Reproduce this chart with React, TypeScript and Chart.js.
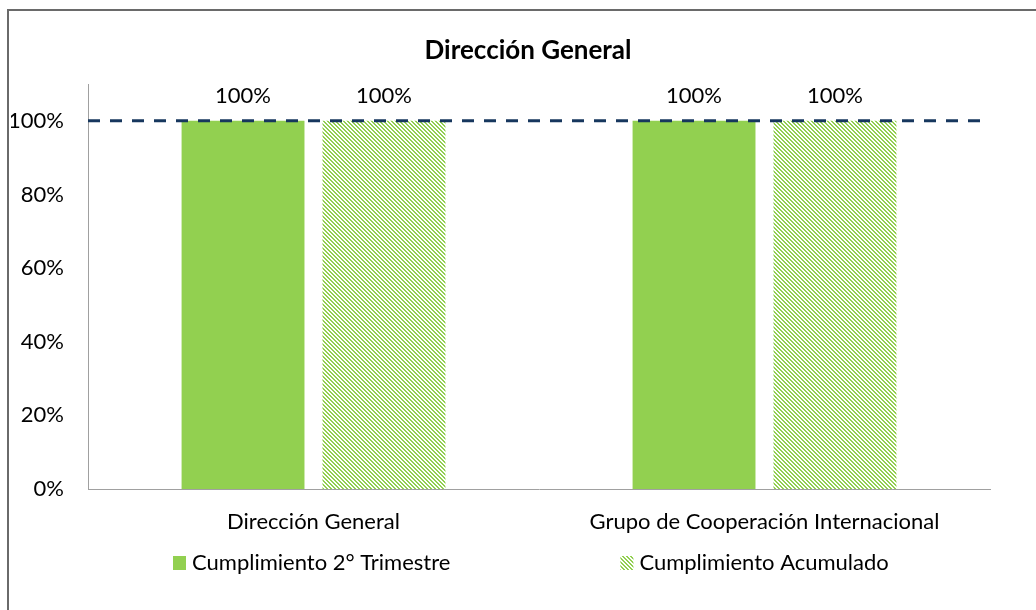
import React, { useEffect, useRef } from "react";
import { Chart, registerables } from "chart.js";

Chart.register(...registerables);

const TITLE = "Dirección General";
const CATEGORIES = ["Dirección General", "Grupo de Cooperación Internacional"];
const SERIES_NAMES = ["Cumplimiento 2° Trimestre", "Cumplimiento Acumulado"];
const TRIMESTRE = [1.0, 1.0];
const ACUMULADO = [1.0, 1.0];
const TARGET = 1.0;
const Y_TICKS = [0, 0.2, 0.4, 0.6, 0.8, 1.0];
const Y_MAX = 1.1;

const GREEN = "#92D050";
const NAVY = "#17375E";
const AXIS = "#a0a0a0";
const FONT = "Lato";
const FS = 22;

function makeHatch(): CanvasPattern | string {
  const c = document.createElement("canvas");
  c.width = 4;
  c.height = 4;
  const ctx = c.getContext("2d");
  if (!ctx) return GREEN;
  ctx.fillStyle = "#ffffff";
  ctx.fillRect(0, 0, 4, 4);
  ctx.fillStyle = GREEN;
  for (let y = 0; y < 4; y++) {
    for (let x = 0; x < 4; x++) {
      if ((((x - y) % 4) + 4) % 4 < 2) ctx.fillRect(x, y, 1, 1);
    }
  }
  return ctx.createPattern(c, "repeat") || GREEN;
}

const pct = (v: number) => Math.round(v * 100) + "%";

const targetLine = {
  id: "targetLine",
  afterDatasetsDraw(chart: any) {
    const { ctx, chartArea, scales } = chart;
    const y = scales.y.getPixelForValue(TARGET);
    ctx.save();
    ctx.strokeStyle = NAVY;
    ctx.lineWidth = 3;
    ctx.setLineDash([12, 10]);
    ctx.beginPath();
    ctx.moveTo(chartArea.left, y);
    ctx.lineTo(chartArea.right, y);
    ctx.stroke();
    ctx.restore();
  },
};

const valueLabels = {
  id: "valueLabels",
  afterDatasetsDraw(chart: any) {
    const { ctx } = chart;
    ctx.save();
    ctx.font = `${FS}px ${FONT}`;
    ctx.fillStyle = "#000000";
    ctx.textAlign = "center";
    ctx.textBaseline = "middle";
    chart.data.datasets.forEach((ds: any, i: number) => {
      const meta = chart.getDatasetMeta(i);
      meta.data.forEach((bar: any, j: number) => {
        ctx.fillText(pct(ds.data[j]), bar.x, bar.y - 25);
      });
    });
    ctx.restore();
  },
};

const customLegend = {
  id: "customLegend",
  afterDraw(chart: any) {
    const { ctx, chartArea } = chart;
    const cy = chartArea.bottom + 74;
    let x = chartArea.left + 85;
    ctx.save();
    ctx.font = `${FS}px ${FONT}`;
    ctx.textBaseline = "middle";
    ctx.textAlign = "left";
    chart.data.datasets.forEach((ds: any) => {
      ctx.fillStyle = ds.backgroundColor;
      ctx.fillRect(x, cy - 7, 13, 14);
      ctx.fillStyle = "#000000";
      ctx.fillText(ds.label, x + 19, cy);
      x += 19 + ctx.measureText(ds.label).width + 170;
    });
    ctx.restore();
  },
};

export default function App() {
  const ref = useRef<HTMLCanvasElement | null>(null);

  useEffect(() => {
    if (!ref.current) return;
    const hatch = makeHatch();
    const chart = new Chart(ref.current, {
      type: "bar",
      data: {
        labels: CATEGORIES,
        datasets: [
          {
            label: SERIES_NAMES[0],
            data: TRIMESTRE,
            backgroundColor: GREEN,
            borderWidth: 0,
            categoryPercentage: 0.625,
            barPercentage: 0.872,
          },
          {
            label: SERIES_NAMES[1],
            data: ACUMULADO,
            backgroundColor: hatch as any,
            borderWidth: 0,
            categoryPercentage: 0.625,
            barPercentage: 0.872,
          },
        ],
      },
      options: {
        responsive: false,
        animation: false,
        layout: { padding: { left: 2, right: 2, top: 10, bottom: 61 } },
        plugins: {
          legend: { display: false },
          tooltip: { enabled: false },
          title: {
            display: true,
            text: TITLE,
            color: "#000000",
            font: { family: FONT, size: 26, weight: "bold" },
            padding: { top: 14.4, bottom: 17.4 },
          },
        },
        scales: {
          x: {
            type: "category",
            grid: { display: false, drawTicks: false },
            border: { display: true, color: AXIS, width: 1 },
            ticks: { color: "#000000", font: { family: FONT, size: FS }, padding: 19.5, maxRotation: 0 },
            afterFit: (s: any) => {
              s.height = 60;
            },
          },
          y: {
            min: 0,
            max: Y_MAX,
            grid: { display: false, drawTicks: false },
            border: { display: true, color: AXIS, width: 1 },
            ticks: {
              color: "#000000",
              font: { family: FONT, size: FS },
              padding: 24,
              callback: (v: any) => pct(Number(v)),
            },
            afterBuildTicks: (s: any) => {
              s.ticks = Y_TICKS.map((v) => ({ value: v }));
            },
            afterFit: (s: any) => {
              s.width = 77;
            },
          },
          y2: {
            type: "linear",
            position: "right",
            display: true,
            grid: { display: false, drawTicks: false },
            border: { display: false },
            ticks: { display: false },
            afterFit: (s: any) => {
              s.width = 55;
            },
          },
        },
      },
      plugins: [targetLine, valueLabels, customLegend],
    });
    return () => chart.destroy();
  }, []);

  return (
    <div
      style={{
        position: "fixed",
        left: 7,
        top: 9,
        width: 1029,
        height: 601,
        overflow: "hidden",
        boxSizing: "border-box",
        borderLeft: "2px solid #6a6a6a",
        borderTop: "2px solid #6a6a6a",
        background: "#ffffff",
      }}
    >
      <canvas ref={ref} width={1038} height={599} style={{ display: "block" }} />
    </div>
  );
}
